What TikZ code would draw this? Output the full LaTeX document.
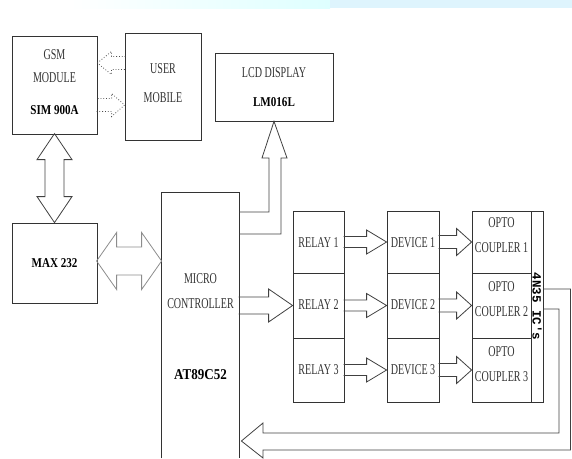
\documentclass[tikz,border=0pt]{standalone}
\usepackage{fontspec}
\setmainfont{Liberation Serif}
\newfontfamily\cond[FakeStretch=0.67]{Liberation Serif}
\newfontfamily\condb[FakeStretch=0.82]{Liberation Serif}
\newfontfamily\condbb[FakeStretch=0.87]{Liberation Serif}
\newfontfamily\monob{Liberation Mono}
\usetikzlibrary{calc}
\begin{document}
\begin{tikzpicture}[x=1pt,y=-1pt,
  line width=0.8pt, draw=black!75,
  box/.style={draw=black!80,line width=0.8pt,inner sep=0,rectangle},
  tx/.style={inner sep=0,text=black!80,font=\cond\fontsize{15}{15}\selectfont},
  bx/.style={inner sep=0,text=black,font=\condb\bfseries\fontsize{13.5}{13.5}\selectfont},
  pics/barrow/.style n args={4}{code={%
    \draw (-#1,#4) -- (-#2,#4) -- (-#2,#3) -- (0,0) -- (-#2,-#3) -- (-#2,-#4) -- (-#1,-#4);}},
  pics/dbarrow/.style n args={4}{code={%
    \draw (0,0) -- (-#2,#3) -- (-#2,#4) -- ({-#1+#2},#4) -- ({-#1+#2},#3) -- (-#1,0)
      -- ({-#1+#2},-#3) -- ({-#1+#2},-#4) -- (-#2,-#4) -- (-#2,-#3) -- cycle;}}
]
\useasboundingbox (0,0) rectangle (572,458);
% top band
\shade[left color=white,right color=cyan!13] (70,0) rectangle (330,8);
\fill[cyan!13] (330,0) rectangle (572,8);

% boxes
\node[box,minimum width=85pt,minimum height=98pt] (gsm) at (54.5,85) {};
\node[box,minimum width=76pt,minimum height=107pt] (user) at (163,86.5) {};
\node[box,minimum width=118pt,minimum height=68pt] (lcd) at (274,87) {};
\node[box,minimum width=85pt,minimum height=80pt] (max) at (54.5,263) {};
\node[inner sep=0,minimum width=77pt,minimum height=265pt] (micro) at (200.5,325.5) {};
\draw[draw=black!80] (micro.south west) -- (micro.north west) -- (micro.north east) -- (micro.south east);

\foreach \i/\y/\h in {1/242/62,2/305.5/65,3/370/64}{
  \node[box,minimum width=51pt,minimum height=\h pt] (relay\i) at (318.5,\y) {};
  \node[box,minimum width=52pt,minimum height=\h pt] (dev\i) at (413,\y) {};
  \node[box,minimum width=59pt,minimum height=\h pt] (opto\i) at (501.5,\y) {};
}
\node[box,minimum width=12pt,minimum height=191pt] (strip) at (537,306.5) {};

% texts
\node[tx] (t1) at (54.5,55) {GSM};
\node[tx] (t2) at (54.5,78) {MODULE};
\node[bx] (t3) at (54.5,110) {SIM 900A};
\node[tx] (t4) at (163,69) {USER};
\node[tx] (t5) at (163,98) {MOBILE};
\node[tx] (t6) at (274,73) {LCD DISPLAY};
\node[bx] (t7) at (274,102) {LM016L};
\node[bx] (t8) at (54.5,263) {MAX 232};
\node[tx] (t9) at (200.5,279) {MICRO};
\node[tx] (t10) at (200.5,304) {CONTROLLER};
\node[bx,font=\condbb\bfseries\fontsize{15}{15}\selectfont] (t11) at (200.5,375) {AT89C52};
\foreach \i/\y in {1/243,2/305,3/370}{
  \node[tx] at (318.5,\y) {RELAY \i};
  \node[tx] at (413,\y) {DEVICE \i};
}
\foreach \i/\y in {1/223,2/287,3/352}{
  \node[tx] at (501.5,\y) {OPTO};
  \node[tx] at (501.5,\y+25) {COUPLER \i};
}
\node[inner sep=0,rotate=-90,font=\monob\bfseries\fontsize{12.5}{12.5}\selectfont] (ic) at (strip) {4N35 IC's};

% GSM <-> MAX
\pic[rotate=-90] at (max.north) {dbarrow={89}{26}{17.5}{9.5}};
% MAX <-> micro
\pic[draw=black!45] at (micro.west |- 0,261) {dbarrow={65}{20}{28.5}{14}};
% dotted arrows GSM <-> user
\pic[rotate=180,dotted,draw=black!70] at (gsm.east |- 0,63) {barrow={28}{14}{11.5}{6.5}};
\pic[dotted,draw=black!70] at (user.west |- 0,105) {barrow={28}{13}{11.5}{6.5}};
% micro -> LCD
\draw (micro.east |- 0,212) -- (269,212) -- (269,158) -- (262,158) -- (lcd.south)
  -- (287,158) -- (281,158) -- (281,234) -- (micro.east |- 0,234);
% micro -> relay 2
\pic at (relay2.west) {barrow={54}{24}{16.5}{8.5}};
% relay -> device, device -> opto
\foreach \i in {1,2,3}{
  \pic at (dev\i.west) {barrow={43}{20}{12}{5.5}};
  \pic at (opto\i.west) {barrow={33}{15}{13.5}{6.5}};
}
% feedback
\coordinate (fb) at ($(micro.east |- 0,441)+(2,0)$);
\draw (strip.east |- 0,289) -- (570.5,289) -- (570.5,450) -- (263,450) -- (263,458)
  -- (fb) -- (263,423) -- (263,433) -- (559,433) -- (559,309) -- (strip.east |- 0,309);
\end{tikzpicture}
\end{document}
